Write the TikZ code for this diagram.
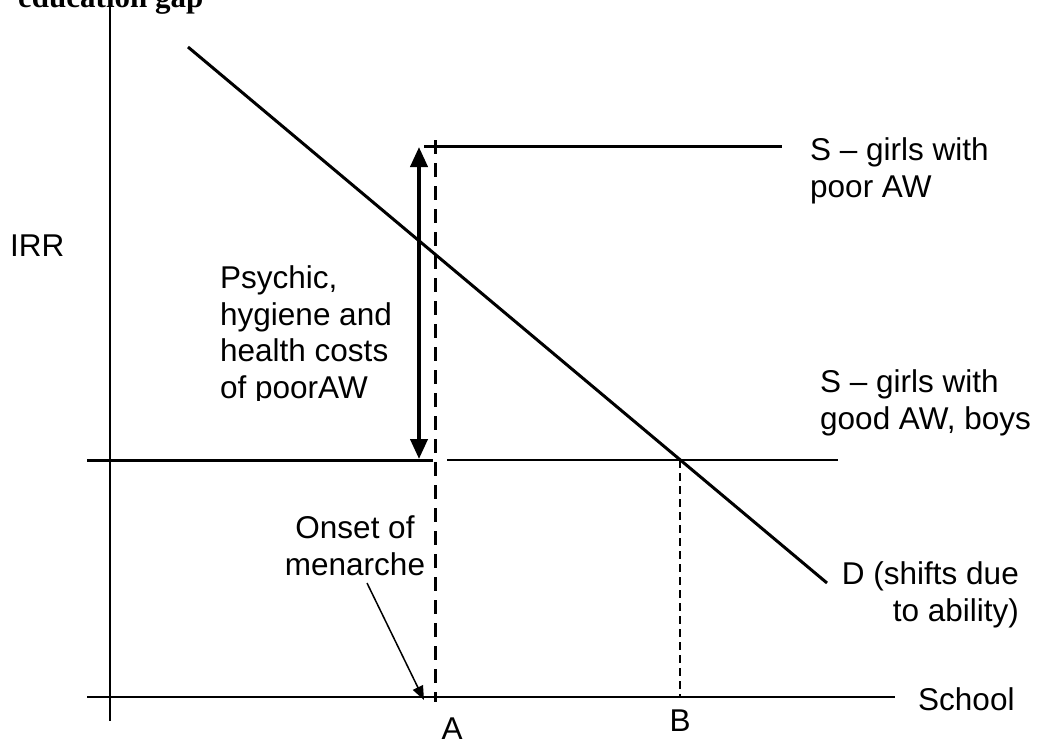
\documentclass[tikz,border=0pt]{standalone}
\usepackage{fontspec}
\setmainfont{Liberation Sans}
\newfontfamily\serifbold{Liberation Serif}
\usetikzlibrary{arrows.meta}
\begin{document}
\begin{tikzpicture}[x=1pt,y=-1pt,
  lbl/.style={font=\fontsize{31.5}{36.5}\selectfont, inner sep=0pt, anchor=base west, align=left},
  axis/.style={line width=2pt},
  thickline/.style={line width=3pt},
  thinline/.style={line width=2pt},
  dashA/.style={line width=3pt, dash pattern=on 14pt off 9pt},
  dashB/.style={line width=2pt, dash pattern=on 8pt off 5pt},
  costarrow/.style={line width=4pt, {Triangle[length=20pt,width=17pt]}-{Triangle[length=20pt,width=17pt]}},
  pointer/.style={line width=1.5pt, -{Triangle[length=14pt,width=11pt]}}]
\useasboundingbox (0,0) rectangle (1043,742);
% coordinates
\coordinate (yt) at (110,0);
\coordinate (yb) at (110,721);
\coordinate (xl) at (87,697);
\coordinate (xr) at (895,697);
\coordinate (d1) at (188,47);
\coordinate (d2) at (827,583);
\coordinate (lo1) at (87,460);
\coordinate (lo2) at (433,460);
\coordinate (lo3) at (447,460);
\coordinate (lo4) at (838,460);
\coordinate (up1) at (424,146);
\coordinate (up2) at (782,146);
\coordinate (at) at (435,140);
\coordinate (ab) at (435,702);
\coordinate (bt) at (680,460);
\coordinate (bb) at (680,697);
\coordinate (ct) at (419,147);
\coordinate (cb) at (419,459);
\coordinate (ms) at (367,583);
\coordinate (me) at (424,700);
% title fragment
\node[inner sep=0pt, anchor=base west, font=\serifbold\bfseries\fontsize{31}{36}\selectfont] (title) at (18,7) {education gap};
% axes
\draw[axis] (yt) -- (yb);
\draw[axis] (xl) -- (xr);
% demand
\draw[thickline] (d1) -- (d2);
% supply lines
\draw[thickline] (lo1) -- (lo2);
\draw[thinline] (lo3) -- (lo4);
\draw[thickline] (up1) -- (up2);
% dashed verticals
\draw[dashA] (at) -- (ab);
\draw[dashB] (bt) -- (bb);
% cost arrow
\draw[costarrow] (ct) -- (cb);
% labels (base anchor = baseline of the last line)
\node[lbl] (irr) at (10,256) {IRR};
\begin{scope}
\clip (200,250) rectangle (410,400);
\node[lbl] (psy) at (220,398) {Psychic,\\hygiene and\\health costs\\of poorAW};
\end{scope}
\node[lbl] (supp) at (810,197) {S -- girls with\\poor AW};
\node[lbl] (slow) at (820,429) {S -- girls with\\good AW, boys};
\node[lbl, align=right, anchor=base east] (dlab) at (1019,621) {D (shifts due\\to ability)};
\node[lbl] (school) at (918,710) {School};
\node[lbl, anchor=base] (alab) at (452,739) {A};
\node[lbl, anchor=base] (blab) at (680,731) {B};
\node[lbl, align=center, anchor=base] (onset) at (355,575) {Onset of\\menarche};
\draw[pointer] (ms) -- (me);
\end{tikzpicture}
\end{document}
